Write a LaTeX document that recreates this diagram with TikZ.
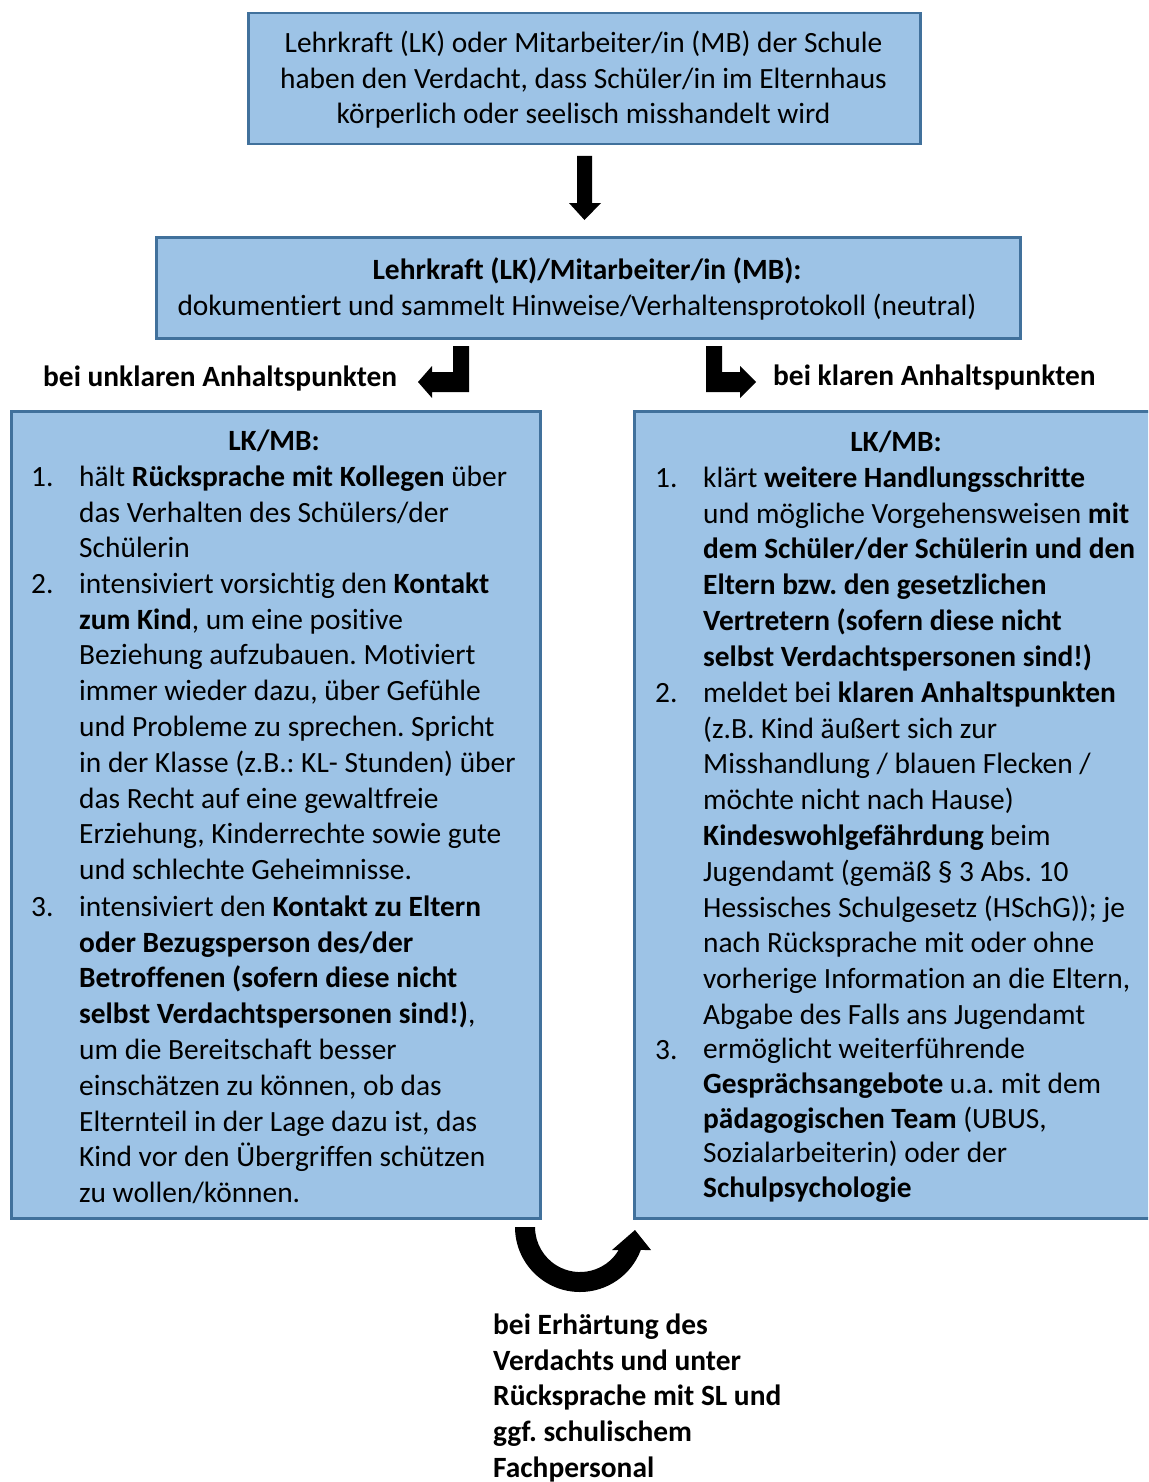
\documentclass[tikz,border=0pt]{standalone}
\usepackage{fontspec}
\setmainfont[Ligatures={NoCommon}]{Carlito}
\definecolor{boxfill}{HTML}{9DC3E6}
\definecolor{boxline}{HTML}{41719C}
\frenchspacing
\begin{document}
\begin{tikzpicture}[x=1pt,y=-1pt,
  box/.style={draw=boxline, fill=boxfill, line width=2.5pt, inner sep=0pt, anchor=north west},
  txt/.style={inner sep=0pt, font=\fontsize{29.4}{35.8}\selectfont},
  item/.style={txt, anchor=north west, align=left},
  num/.style={txt, anchor=base west},
  blockarrow/.style={fill=black}]
\useasboundingbox (0,0) rectangle (1148,1482);
\clip (0,0) rectangle (1148,1482);

% boxes
\node[box, minimum width=672pt, minimum height=131pt] (topbox) at (247,12) {};
\node[box, minimum width=864pt, minimum height=101pt] (midbox) at (155,236) {};
\node[box, minimum width=529pt, minimum height=807pt] (leftbox) at (10,410) {};
\node[box, minimum width=600pt, minimum height=807pt] (rightbox) at (633,410) {};

% top box text
\node[txt, anchor=north, align=center] (toptext) at (583.5,27) {\strut Lehrkraft (LK) oder Mitarbeiter/in (MB) der Schule\\ haben den Verdacht, dass Schüler/in im Elternhaus\\ körperlich oder seelisch misshandelt wird};

% mid box text
\node[txt, anchor=base] (midtitle) at (587,279) {\textbf{Lehrkraft (LK)/Mitarbeiter/in (MB):}};
\node[txt, anchor=base] (midtext) at (577,315) {dokumentiert und sammelt Hinweise/Verhaltensprotokoll (neutral)};

% labels
\node[txt, anchor=base west] (lbl) at (43,386) {\textbf{bei unklaren Anhaltspunkten}};
\node[txt, anchor=base west] (rbl) at (773,385) {\textbf{bei klaren Anhaltspunkten}};

% left box
\node[txt, anchor=base] (lhead) at (274,450) {\textbf{LK/MB:}};
\node[num] (ln1) at (31,486) {1.};
\node[item] (li1) at (79,461) {\strut hält \textbf{Rücksprache mit Kollegen} über\\ das Verhalten des Schülers/der\\ Schülerin};
\node[num] (ln2) at (31,593) {2.};
\node[item] (li2) at (79,568) {\strut intensiviert vorsichtig den \textbf{Kontakt}\\ \textbf{zum Kind}, um eine positive\\ Beziehung aufzubauen. Motiviert\\ immer wieder dazu, über Gefühle\\ und Probleme zu sprechen. Spricht\\ in der Klasse (z.B.: KL- Stunden) über\\ das Recht auf eine gewaltfreie\\ Erziehung, Kinderrechte sowie gute\\ und schlechte Geheimnisse.};
\node[num] (ln3) at (31,916) {3.};
\node[item] (li3) at (79,891) {\strut intensiviert den \textbf{Kontakt zu Eltern}\\ \textbf{oder Bezugsperson des/der}\\ \textbf{Betroffenen (sofern diese nicht}\\ \textbf{selbst Verdachtspersonen sind!)},\\ um die Bereitschaft besser\\ einschätzen zu können, ob das\\ Elternteil in der Lage dazu ist, das\\ Kind vor den Übergriffen schützen\\ zu wollen/können.};

% right box
\node[txt, anchor=base] (rhead) at (896,451) {\textbf{LK/MB:}};
\node[num] (rn1) at (655,487) {1.};
\node[item] (ri1) at (703,462) {\strut klärt \textbf{weitere Handlungsschritte}\\ und mögliche Vorgehensweisen \textbf{mit}\\ \textbf{dem Schüler/der Schülerin und den}\\ \textbf{Eltern bzw. den gesetzlichen}\\ \textbf{Vertretern (sofern diese nicht}\\ \textbf{selbst Verdachtspersonen sind!)}};
\node[num] (rn2) at (655,702) {2.};
\node[item] (ri2) at (703,677) {\strut meldet bei \textbf{klaren Anhaltspunkten}\\ (z.B. Kind äußert sich zur\\ Misshandlung / blauen Flecken /\\ möchte nicht nach Hause)\\ \textbf{Kindeswohlgefährdung} beim\\ Jugendamt (gemäß § 3 Abs. 10\\ Hessisches Schulgesetz (HSchG)); je\\ nach Rücksprache mit oder ohne\\ vorherige Information an die Eltern,\\ Abgabe des Falls ans Jugendamt};
\node[num] (rn3) at (655,1059) {3.};
\node[item, font=\fontsize{29.4}{34.8}\selectfont] (ri3) at (703,1034) {\strut ermöglicht weiterführende\\ \textbf{Gesprächsangebote} u.a. mit dem\\ \textbf{pädagogischen Team} (UBUS,\\ Sozialarbeiterin) oder der\\ \textbf{Schulpsychologie}};

% bottom text
\node[item] (bottom) at (493,1309) {\strut\textbf{bei Erhärtung des}\\ \textbf{Verdachts und unter}\\ \textbf{Rücksprache mit SL und}\\ \textbf{ggf. schulischem}\\ \textbf{Fachpersonal}};

% block arrows
\fill[blockarrow] (577,156) -- (592,156) -- (592,203) -- (601,203) -- (584.5,220) -- (569,203) -- (577,203) -- cycle;
\fill[blockarrow] (453,346) -- (469,346) -- (469,392) -- (432,392) -- (432,398) -- (418,382) -- (432,366) -- (432,372) -- (453,372) -- cycle;
\fill[blockarrow] (706,346) -- (722,346) -- (722,372) -- (740,372) -- (740,366) -- (756,382) -- (740,398) -- (740,392) -- (706,392) -- cycle;
\fill[blockarrow] (515,1227) arc[start angle=180, end angle=20.7, radius=65] -- (651,1250) -- (635,1230) -- (612,1250) -- (618.7,1250) arc[start angle=30.7, end angle=180, radius=45] -- cycle;
\end{tikzpicture}
\end{document}
